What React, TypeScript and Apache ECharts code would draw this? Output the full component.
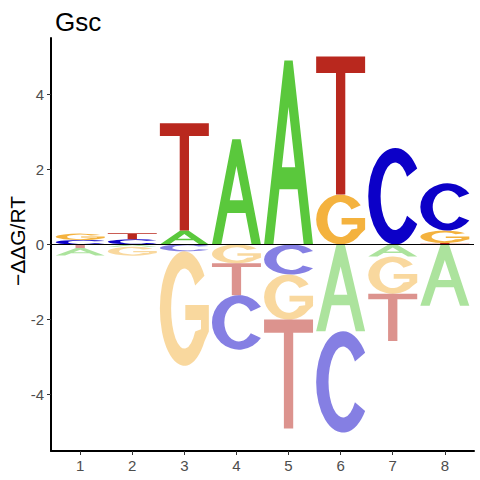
import React, { useEffect, useRef } from "react";
import * as echarts from "echarts";

// Positions (x categories) and per-letter signed energies (−ΔΔG/RT)
const POSITIONS = [1, 2, 3, 4, 5, 6, 7, 8];
const A_VALUES = [-0.2, -0.06, 0.37, 2.8, 4.9, -2.31, -0.32, -1.63];
const C_VALUES = [0.12, 0.14, -0.18, -1.45, -0.8, -2.7, 2.57, 1.26];
const G_VALUES = [0.17, -0.24, -3.05, -0.5, -1.2, 1.33, -0.99, 0.33];
const T_VALUES = [-0.09, 0.16, 2.86, -0.85, -2.9, 3.68, -1.26, 0.04];
const LETTERS = ["A", "C", "G", "T"];
const Y_TICKS = [-4, -2, 0, 2, 4];
const TITLE = "Gsc";
const Y_NAME = "\u2212\u0394\u0394G/RT";

const COLORS = ["#5ac83c", "#0c00c8", "#f4b23e", "#b9281e"];
const FONT = "'Liberation Sans', Arial, sans-serif";
const LETTER_W = 0.94;

const PATHS = [
  // A
  "M0,100 L41.5,0 L58.5,0 L100,100 L81,100 L68.55,70 L31.45,70 L19,100 Z M50,25.3 L36.4,58 L63.6,58 Z",
  // C
  "M91,21.3 A50,50 0 1 0 91,78.7 L72.1,70.1 A27,35 0 1 1 72.1,29.9 Z",
  // G
  "M91,21.3 A50,50 0 1 0 91,78.7 L100,70 L100,47 L52,47 L52,60 L84,60 L84,68 L72.1,70.1 A27,35 0 1 1 72.1,29.9 Z",
  // T
  "M0,0 L100,0 L100,12 L59.5,12 L59.5,100 L40.5,100 L40.5,12 L0,12 Z",
];

function buildStacks() {
  const all = [A_VALUES, C_VALUES, G_VALUES, T_VALUES];
  const out: number[][] = [];
  POSITIONS.forEach((pos, i) => {
    const entries = all.map((arr, li) => ({ li, v: arr[i] }));
    const pos_ = entries.filter((e) => e.v > 0).sort((a, b) => a.v - b.v);
    const neg_ = entries.filter((e) => e.v < 0).sort((a, b) => b.v - a.v);
    let acc = 0;
    pos_.forEach((e) => {
      out.push([pos, acc, acc + e.v, e.li, 0]);
      acc += e.v;
    });
    acc = 0;
    neg_.forEach((e) => {
      out.push([pos, acc, acc + e.v, e.li, 1]);
      acc += e.v;
    });
  });
  return out;
}

export default function App() {
  const ref = useRef<HTMLDivElement>(null);
  useEffect(() => {
    if (!ref.current) return;
    const chart = echarts.init(ref.current, null, { renderer: "svg" });
    const data = buildStacks();
    chart.setOption({
      animation: false,
      backgroundColor: "#ffffff",
      textStyle: { fontFamily: FONT },
      title: {
        text: TITLE,
        left: 50,
        top: 4,
        textStyle: { fontSize: 26, fontWeight: "normal", color: "#000", fontFamily: FONT },
      },
      graphic: [
        {
          type: "text",
          x: 17,
          y: 241,
          rotation: Math.PI / 2,
          style: {
            text: Y_NAME,
            fontSize: 21,
            fontFamily: FONT,
            fill: "#000",
            textAlign: "center",
            textVerticalAlign: "middle",
          },
        },
      ],
      grid: { left: 51, right: 6, top: 38, bottom: 29, outerBoundsMode: "none" },
      xAxis: {
        type: "value",
        min: 0.44,
        max: 8.56,
        axisLine: { show: true, onZero: false, lineStyle: { color: "#000", width: 2 } },
        axisTick: { show: true, length: 4, customValues: POSITIONS, lineStyle: { color: "#333", width: 1 } },
        axisLabel: { customValues: POSITIONS, color: "#4d4d4d", fontSize: 15, margin: 7, fontFamily: FONT },
        splitLine: { show: false },
      },
      yAxis: {
        type: "value",
        min: -5.5,
        max: 5.5,
        axisLine: { show: true, onZero: false, lineStyle: { color: "#000", width: 2 } },
        axisTick: { show: true, length: 4, customValues: Y_TICKS, lineStyle: { color: "#333", width: 1 } },
        axisLabel: { customValues: Y_TICKS, color: "#4d4d4d", fontSize: 15, margin: 7, fontFamily: FONT },
        splitLine: { show: false },
      },
      series: [
        {
          type: "custom",
          data,
          encode: { x: 0, y: [1, 2] },
          renderItem: (params: any, api: any) => {
            const x = api.value(0);
            const y0 = api.value(1);
            const y1 = api.value(2);
            const li = api.value(3);
            const neg = api.value(4);
            const p0 = api.coord([x - LETTER_W / 2, Math.max(y0, y1)]);
            const p1 = api.coord([x + LETTER_W / 2, Math.min(y0, y1)]);
            return {
              type: "path",
              shape: {
                pathData: PATHS[li],
                layout: "cover",
                x: p0[0],
                y: p0[1],
                width: p1[0] - p0[0],
                height: Math.max(p1[1] - p0[1], 0.01),
              },
              style: { fill: COLORS[li], opacity: neg ? 0.5 : 1 },
            };
          },
          z: 2,
        },
        {
          type: "line",
          data: [
            [0.44, 0],
            [8.56, 0],
          ],
          symbol: "none",
          lineStyle: { color: "#000", width: 1 },
          z: 5,
          silent: true,
        },
      ],
    });
    return () => chart.dispose();
  }, []);
  return (
    <div
      ref={ref}
      style={{ position: "absolute", left: 0, top: 0, width: 480, height: 480 }}
    />
  );
}
